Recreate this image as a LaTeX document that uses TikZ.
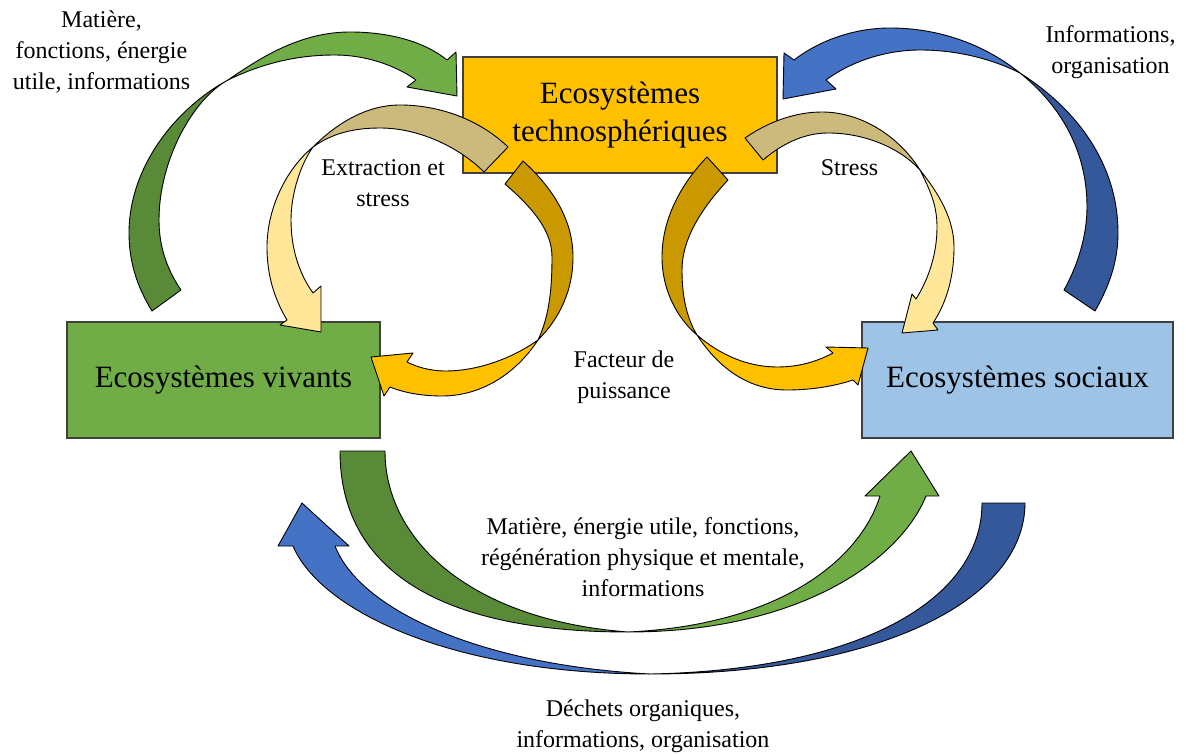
\documentclass[tikz,border=0pt]{standalone}
\usepackage{fontspec}
\setmainfont{Liberation Serif}
\usepackage{tikz}

\definecolor{techgold}{RGB}{255,192,0}
\definecolor{vivgreen}{RGB}{112,173,71}
\definecolor{socblue}{RGB}{157,195,230}
\definecolor{darkgreen}{RGB}{88,138,56}
\definecolor{lightgreen}{RGB}{112,173,71}
\definecolor{darkblue}{RGB}{52,88,154}
\definecolor{midblue}{RGB}{68,114,196}
\definecolor{backtan}{RGB}{204,186,125}
\definecolor{paleyellow}{RGB}{255,230,153}
\definecolor{darkgold}{RGB}{202,153,0}

\newcommand{\boxfont}{\fontsize{31}{38}\selectfont}
\newcommand{\lblfont}{\fontsize{24}{31}\selectfont}

\tikzset{
  box/.style={draw=black!75, line width=1.2pt, minimum width=313pt, minimum height=116pt, inner sep=0pt, align=center, font=\boxfont},
  lbl/.style={align=center, font=\lblfont},
  band/.style={draw=black, line width=0.9pt, line join=round}
}

\begin{document}
\begin{tikzpicture}[x=1pt,y=-1pt]
        \useasboundingbox (0,0) rectangle (1189,754);
        % boxes
        \node[box, fill=techgold, minimum width=314pt] (techno) at (620,115) {Ecosystèmes\\technosphériques};
        \node[box, fill=vivgreen] (vivants) at (223.5,380) {Ecosystèmes vivants};
        \node[box, fill=socblue, minimum width=311pt] (sociaux) at (1017.5,380) {Ecosystèmes sociaux};
        % top left
        \filldraw[band, fill=darkgreen] (152,311) .. controls (136,285) and (129,260) .. (129,233) .. controls (129,165) and (178,107) .. (228,80) .. controls (193,99) and (159,160) .. (159,220) .. controls (159,245) and (166,268) .. (181,290) -- cycle;
        \filldraw[band, fill=lightgreen] (228,80) .. controls (260,58) and (300,32) .. (350,32) .. controls (390,32) and (425,42) .. (447,60) -- (456,52) -- (457,96) -- (407,87) -- (416,80) .. controls (395,65) and (365,55) .. (335,55) .. controls (300,55) and (265,62) .. (228,80) -- cycle;
        % extraction
        \filldraw[band, fill=backtan] (508,147) .. controls (480,120) and (440,105) .. (400,105) .. controls (365,105) and (335,125) .. (313,147) .. controls (330,135) and (350,128) .. (380,128) .. controls (420,128) and (460,148) .. (484,172) -- cycle;
        \filldraw[band, fill=paleyellow] (313,147) .. controls (285,170) and (267,210) .. (267,247) .. controls (267,280) and (277,303) .. (287,320) -- (280,325) -- (321,332) -- (321,286) -- (313,293) .. controls (300,275) and (291,250) .. (291,220) .. controls (291,195) and (300,165) .. (313,147) -- cycle;
        % puissance left
        \filldraw[band, fill=darkgold] (523,161) .. controls (555,190) and (573,222) .. (573,257) .. controls (573,290) and (560,318) .. (538,340) .. controls (550,315) and (552,285) .. (552,257) .. controls (552,232) and (535,210) .. (505,184) -- cycle;
        \filldraw[band, fill=techgold] (538,340) .. controls (515,375) and (480,396) .. (442,396) .. controls (420,396) and (402,392) .. (390,387) -- (384,396) -- (371,357) -- (413,353) -- (407,362) .. controls (417,367) and (430,371) .. (446,371) .. controls (475,371) and (510,360) .. (538,340) -- cycle;
        % stress
        \filldraw[band, fill=backtan] (745,138) .. controls (768,122) and (795,112) .. (822,112) .. controls (860,112) and (898,135) .. (920,170) .. controls (900,148) and (865,133) .. (828,133) .. controls (805,133) and (783,143) .. (763,160) -- cycle;
        \filldraw[band, fill=paleyellow] (920,170) .. controls (940,195) and (954,220) .. (954,247) .. controls (954,280) and (945,305) .. (933,323) -- (938,330) -- (902,333) -- (912,294) -- (916,299) .. controls (928,280) and (937,255) .. (937,227) .. controls (937,205) and (930,190) .. (920,170) -- cycle;
        % puissance right
        \filldraw[band, fill=darkgold] (707,157) .. controls (680,185) and (662,220) .. (662,257) .. controls (662,290) and (677,318) .. (697,335) .. controls (688,320) and (682,300) .. (682,270) .. controls (682,240) and (700,210) .. (728,180) -- cycle;
        \filldraw[band, fill=techgold] (697,335) .. controls (720,370) and (750,390) .. (787,390) .. controls (815,390) and (838,385) .. (853,380) -- (858,385) -- (868,348) -- (826,347) -- (833,353) .. controls (818,361) and (800,367) .. (777,367) .. controls (748,367) and (720,355) .. (697,335) -- cycle;
        % top right
        \filldraw[band, fill=darkblue] (1095,311) .. controls (1110,285) and (1118,260) .. (1118,233) .. controls (1118,165) and (1078,110) .. (1020,73) .. controls (1060,105) and (1087,150) .. (1087,207) .. controls (1087,235) and (1078,265) .. (1064,290) -- cycle;
        \filldraw[band, fill=midblue] (1020,73) .. controls (985,45) and (940,28) .. (890,28) .. controls (855,28) and (820,40) .. (794,60) -- (784,53) -- (783,99) -- (836,89) -- (826,80) .. controls (850,62) and (885,50) .. (920,50) .. controls (955,50) and (990,58) .. (1020,73) -- cycle;
        % bottom green
        \filldraw[band, fill=darkgreen] (340,451) .. controls (340,570) and (440,632) .. (628,632) .. controls (470,620) and (385,540) .. (385,451) -- cycle;
        \filldraw[band, fill=lightgreen] (628,632) .. controls (800,632) and (900,560) .. (926,496) -- (939,496) -- (911,451) -- (865,496) -- (880,496) .. controls (860,560) and (780,625) .. (628,632) -- cycle;
        % bottom blue
        \filldraw[band, fill=darkblue] (1025,503) .. controls (1025,600) and (880,674) .. (650,674) .. controls (860,670) and (982,600) .. (982,503) -- cycle;
        \filldraw[band, fill=midblue] (650,674) .. controls (450,674) and (320,610) .. (293,546) -- (278,546) -- (302,503) -- (349,546) -- (335,546) .. controls (360,610) and (480,665) .. (650,674) -- cycle;
        % labels
        \node[lbl] (lblmat) at (101.5,52) {Matière,\\fonctions, énergie\\utile, informations};
        \node[lbl] (lblinfo) at (1110.5,52) {Informations,\\organisation};
        \node[lbl] (lblext) at (383,183) {Extraction et\\stress};
        \node[lbl] (lblstress) at (849.5,168) {Stress};
        \node[lbl] (lblfact) at (624,377) {Facteur de\\puissance};
        \node[lbl] (lblregen) at (643,557) {Matière, énergie utile, fonctions,\\régénération physique et mentale,\\informations};
        \node[lbl] (lbldechets) at (643,726) {Déchets organiques,\\informations, organisation};
    \end{tikzpicture}
\end{document}
